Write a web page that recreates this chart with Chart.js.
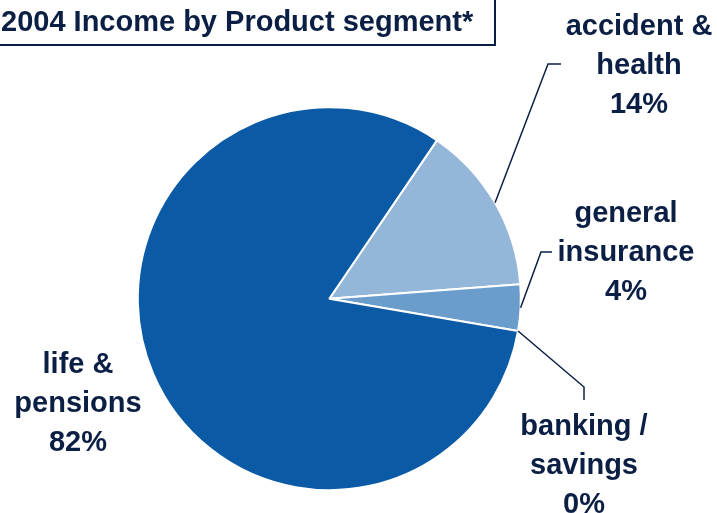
<!DOCTYPE html>
<html>
<head>
<meta charset="utf-8">
<script src="https://cdn.jsdelivr.net/npm/chart.js@4/dist/chart.umd.min.js"></script>
<style>
  html, body { margin: 0; padding: 0; background: #fff; }
  canvas { display: block; }
</style>
</head>
<body>
<canvas id="pie" width="717" height="513"></canvas>
<script>
// Data (slices go clockwise from the life/accident boundary)
const titleText = "2004 Income by Product segment*";
const segments = [["accident &", "health"], ["general", "insurance"], ["banking /", "savings"], ["life &", "pensions"]];
const shares = [14.3, 3.9, 0.0, 81.8];
const shareLabels = ["14%", "4%", "0%", "82%"];
const sliceColors = ["#93b6d9", "#6a9dcb", "#3f7fbf", "#0b5aa6"];

const navy = "#0b1f45";
const font = "bold 29px 'Liberation Sans', Arial, sans-serif";

// label placement: text centre x, first baseline y, and leader line path
const labelPos = [
    { x: 639, y: 35, elbow: [[548, 64], [561, 64]], at: "mid" },
    { x: 626, y: 222, elbow: [[541, 252], [552, 252]], at: "mid" },
    { x: 584, y: 435, elbow: [[584, 387], [584, 400]], at: "start" },
    { x: 78, y: 373, elbow: null }
];

const labelsPlugin = {
    id: "labels",
    afterDraw(chart) {
        const ctx = chart.ctx;
        const meta = chart.getDatasetMeta(0);
        ctx.save();

        // title box
        ctx.strokeStyle = navy;
        ctx.lineWidth = 2;
        ctx.strokeRect(-10, -10, 505, 55);
        ctx.fillStyle = navy;
        ctx.font = font;
        ctx.textAlign = "left";
        ctx.textBaseline = "alphabetic";
        ctx.fillText(titleText, 1, 31);

        // leader lines
        ctx.lineWidth = 1.5;
        labelPos.forEach((p, i) => {
            if (!p.elbow) return;
            const arc = meta.data[i];
            const a = p.at === "mid" ? (arc.startAngle + arc.endAngle) / 2 : arc.startAngle;
            const r = arc.outerRadius;
            ctx.beginPath();
            ctx.moveTo(arc.x + r * Math.cos(a), arc.y + r * Math.sin(a));
            p.elbow.forEach(pt => ctx.lineTo(pt[0], pt[1]));
            ctx.stroke();
        });

        // labels
        ctx.textAlign = "center";
        labelPos.forEach((p, i) => {
            const lines = segments[i].concat([shareLabels[i]]);
            lines.forEach((t, k) => ctx.fillText(t, p.x, p.y + k * 39));
        });
        ctx.restore();
    }
};

new Chart(document.getElementById("pie"), {
    type: "pie",
    data: {
        labels: segments.map(s => s.join(" ")),
        datasets: [{
            data: shares,
            backgroundColor: sliceColors,
            borderColor: "#ffffff",
            borderWidth: 2
        }]
    },
    options: {
        responsive: false,
        animation: false,
        rotation: 34.2,
        layout: { padding: { left: 136.8, right: 195.2, top: 106.2, bottom: 21.8 } },
        plugins: {
            legend: { display: false },
            tooltip: { enabled: false }
        }
    },
    plugins: [labelsPlugin]
});
</script>
</body>
</html>
